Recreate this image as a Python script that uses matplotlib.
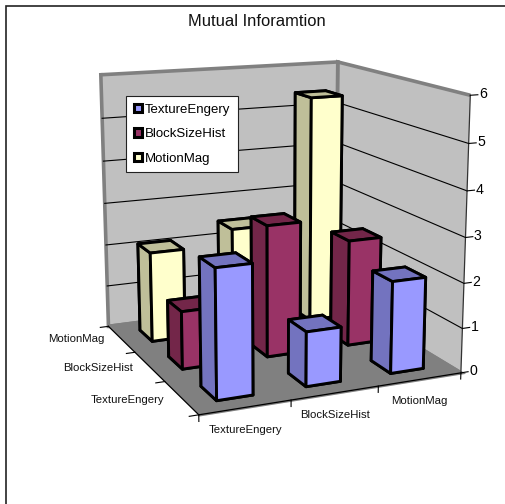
import numpy as np
import matplotlib
matplotlib.use('Agg')
import matplotlib.pyplot as plt
from matplotlib.patches import Patch, Rectangle
from mpl_toolkits.mplot3d import proj3d

categories = ['TextureEngery', 'BlockSizeHist', 'MotionMag']
texture_engery = [2.8, 1.2, 2.05]
block_size_hist = [1.3, 3.0, 2.45]
motion_mag = [2.1, 2.45, 5.4]
z_ticks = [0, 1, 2, 3, 4, 5, 6]

# front, side/top shade for each series
face_colors = ['#9999FF', '#993366', '#FFFFCC']
shade_colors = ['#7373BF', '#732649', '#BFBF99']

plt.rcParams['font.family'] = ['Liberation Sans', 'DejaVu Sans']

W, H = 505, 504
fig = plt.figure(figsize=(W / 100, H / 100), dpi=100)
fig.patch.set_facecolor('white')
fig.add_artist(Rectangle((6 / W, -0.1), 1.1, 1.1 - 6 / H, transform=fig.transFigure,
                         fc='none', ec='#222222', lw=1.2, zorder=-1))

ax = fig.add_axes([16.38 / W, 25.65 / H, 1, 1], projection='3d')
ax.patch.set_visible(False)
ax.computed_zorder = False
ax.view_init(elev=13.553, azim=-113.633)
ax.set_proj_type('persp', focal_length=0.497)
ax.set_box_aspect((1, 1.022, 1.0), zoom=0.912)
ax.set_xlim(0, 3, view_margin=0)
ax.set_ylim(0, 3, view_margin=0)
ax.set_zlim(0, 6, view_margin=0)


def label3d(x, y, z, s, **kw):
    # place flat text at a projected 3d position
    xs, ys, _ = proj3d.proj_transform(x, y, z, ax.get_proj())
    ax.text2D(xs, ys, s, transform=ax.transData, **kw)


# walls and floor
for axis, col in ((ax.xaxis, '#C0C0C0'), (ax.yaxis, '#C0C0C0'), (ax.zaxis, '#808080')):
    axis.set_pane_color(col)
    axis.pane.set_edgecolor('#808080')
    axis.pane.set_linewidth(2.6)
    axis.line.set_color('none')
    axis.set_ticks([])
ax.grid(False)

# pane outlines are open, so close the far left side of the wall
ax.plot([0, 0], [3, 3], [0, 6], color='#808080', lw=2.6, zorder=1)

# gridlines on both walls
for z in z_ticks[1:-1]:
    ax.plot([0, 3, 3], [3, 3, 0], [z, z, z], color='black', lw=0.8, zorder=1)

# axis lines and tick marks
ax.plot([0, 3], [0, 0], [0, 0], color='black', lw=0.9, zorder=2)
ax.plot([0, 0], [0, 3], [0, 0], color='black', lw=0.9, zorder=2)
ax.plot([3, 3], [0, 0], [0, 6], color='#333333', lw=0.9, zorder=2)
for i in range(4):
    ax.plot([i, i], [0, 0], [0, -0.14], color='black', lw=0.8, zorder=2)
    ax.plot([0, -0.1], [i, i], [0, 0], color='black', lw=0.8, zorder=2)
for z in z_ticks:
    ax.plot([3, 3.09], [0, 0], [z, z], color='black', lw=0.8, zorder=2)
    label3d(3.15, 0, z, str(z), fontsize=10.2, ha='center', va='center', color='black', zorder=2)

# category labels along the two floor edges
for i, name in enumerate(categories):
    label3d(i + 0.5, 0, -0.48, name, fontsize=8.2, ha='center', va='center', color='#111111', zorder=2)
    label3d(-0.31, i + 0.12, 0.32, name, fontsize=8.2, ha='right', va='center', color='#111111', zorder=2)

# back row first so nearer bars cover it
series = [texture_engery, block_size_hist, motion_mag]
bar_w, bar_d = 0.40, 0.44
order = 10
for row in (2, 1, 0):
    for col in (2, 1, 0):
        f, s = face_colors[row], shade_colors[row]
        # bottom, top, front, back, left, right
        cols = [s, s, f, f, s, s]
        ax.bar3d(col + 0.5 - bar_w / 2, row + 0.5 - bar_d / 2, 0, bar_w, bar_d, series[row][col],
                 color=cols, shade=False, edgecolor='black', linewidth=2.1, zorder=order)
        order += 1

fig.text(257 / W, 1 - 21 / H, 'Mutual Inforamtion', fontsize=11.9, ha='center', va='center', color='#111111')

handles = [Patch(facecolor=c, edgecolor='black', linewidth=2.2) for c in face_colors]
leg = fig.legend(handles, categories, loc='upper left', bbox_to_anchor=(126 / W, 1 - 96 / H),
                 fontsize=9.5, frameon=True, fancybox=False, framealpha=1, edgecolor='#222222',
                 handlelength=0.62, handleheight=0.62, handletextpad=0.25, labelspacing=0.95,
                 borderpad=0.58, borderaxespad=0)
leg.get_frame().set_linewidth(0.8)
leg.set_zorder(100)

fig.savefig('out.png', dpi=100)
